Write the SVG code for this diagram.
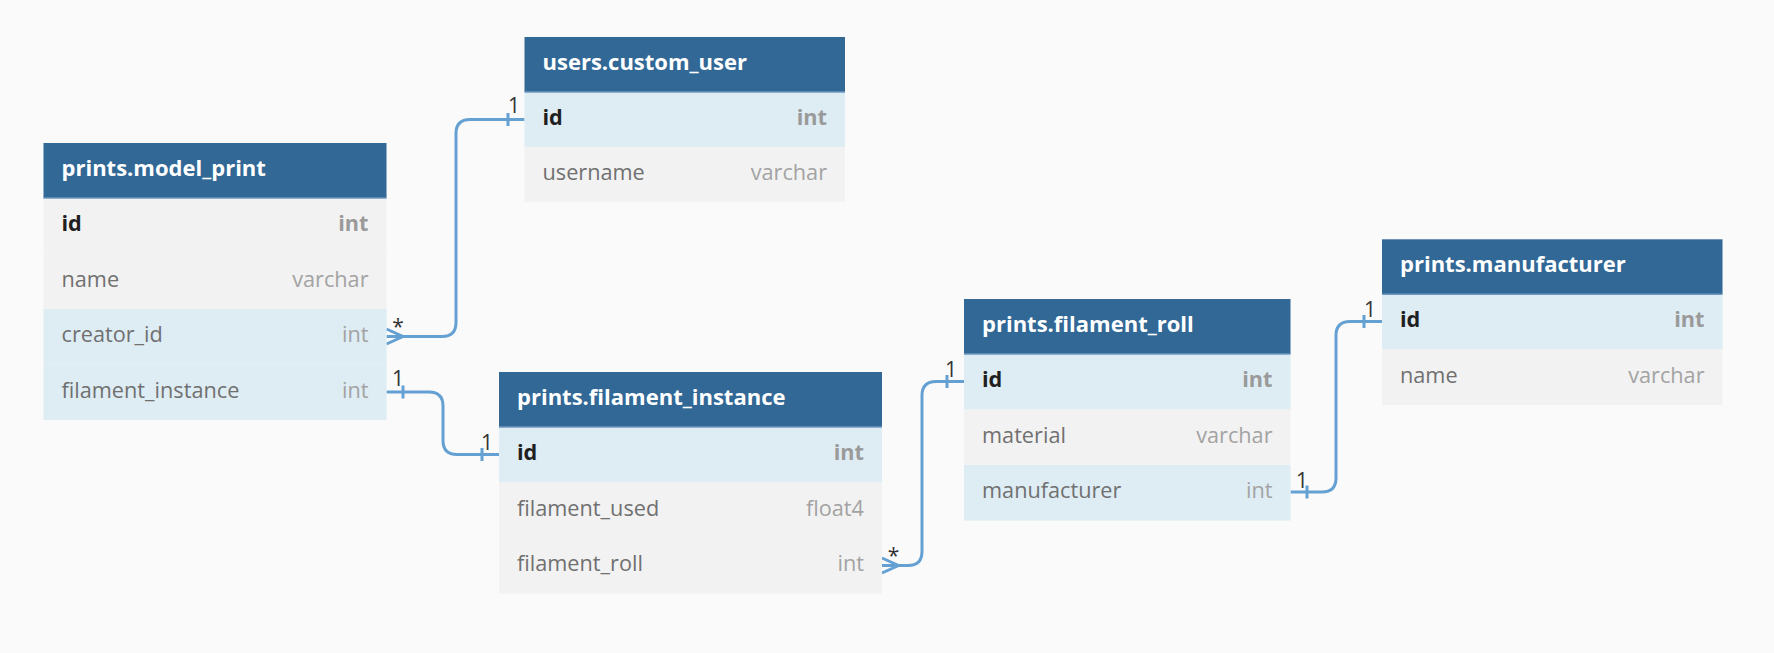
<svg xmlns="http://www.w3.org/2000/svg" width="1774" height="653" viewBox="0 0 1774 653">
<style>
.hdr{fill:#316896}
.hline{stroke:#6f99be;stroke-width:1.5}
.rb{fill:#deecf4}
.rg{fill:#f2f2f2}
.title{font-family:"Open Sans","Noto Sans",sans-serif;font-size:22px;font-weight:700;fill:#ffffff}
.pk{font-family:"Open Sans","Noto Sans",sans-serif;font-size:21.7px;font-weight:700;fill:#1f1f1f}
.fld{font-family:"Open Sans","Noto Sans",sans-serif;font-size:21.7px;fill:#707070}
.pkt{font-family:"Open Sans","Noto Sans",sans-serif;font-size:21.7px;font-weight:700;fill:#9a9a9a;text-anchor:end}
.typ{font-family:"Open Sans","Noto Sans",sans-serif;font-size:21.7px;fill:#a3a3a3;text-anchor:end}
.con{fill:none;stroke:#64a0d2;stroke-width:3;stroke-linecap:butt}
.lbl{font-family:"Open Sans","Noto Sans",sans-serif;font-size:21px;fill:#333333;text-anchor:middle}
</style>
<rect x="0" y="0" width="1774" height="653" fill="#fafafa"/>

<g id="connectors">
  <!-- model_print.creator_id -> users.custom_user.id -->
  <g id="c1">
    <path class="con" d="M386.5,336.5 H442 Q456,336.5 456,322.5 V133.5 Q456,119.5 470,119.5 H524.5"/>
    <path class="con" d="M386.5,329 L403,336.5 L386.5,344"/>
    <path class="con" d="M508,113 V126"/>
    <text class="lbl" x="398" y="334">*</text>
    <text class="lbl" x="514" y="113">1</text>
  </g>
  <!-- model_print.filament_instance -> filament_instance.id -->
  <g id="c2">
    <path class="con" d="M386.5,392 H429 Q443,392 443,406 V440.5 Q443,454.5 457,454.5 H499"/>
    <path class="con" d="M403,385.5 V398.5"/>
    <path class="con" d="M482,448 V461"/>
    <text class="lbl" x="398" y="386">1</text>
    <text class="lbl" x="487" y="450">1</text>
  </g>
  <!-- filament_instance.filament_roll -> filament_roll.id -->
  <g id="c3">
    <path class="con" d="M882,565.5 H908 Q922,565.5 922,551.5 V395.5 Q922,381.5 936,381.5 H964"/>
    <path class="con" d="M882,558 L898.5,565.5 L882,573"/>
    <path class="con" d="M947,375 V388"/>
    <text class="lbl" x="893.5" y="563">*</text>
    <text class="lbl" x="951" y="377">1</text>
  </g>
  <!-- filament_roll.manufacturer -> manufacturer.id -->
  <g id="c4">
    <path class="con" d="M1290.5,492 H1322 Q1336,492 1336,478 V335.5 Q1336,321.5 1350,321.5 H1382"/>
    <path class="con" d="M1307,485.5 V498.5"/>
    <path class="con" d="M1364,315 V328"/>
    <text class="lbl" x="1302" y="488">1</text>
    <text class="lbl" x="1370" y="317">1</text>
  </g>
</g>

<g id="model_print" transform="translate(43.5,143)">
  <rect class="hdr" x="0" y="0" width="343" height="55"/>
  <rect class="rg" x="0" y="55" width="343" height="55.5"/>
  <rect class="rg" x="0" y="110.5" width="343" height="55.5"/>
  <rect class="rb" x="0" y="166" width="343" height="55.5"/>
  <rect class="rb" x="0" y="221.5" width="343" height="55.5"/>
  <line class="hline" x1="0" y1="55" x2="343" y2="55"/>
  <text class="title" x="18" y="33">prints.model_print</text>
  <text class="pk" x="18" y="88">id</text><text class="pkt" x="325" y="88">int</text>
  <text class="fld" x="18" y="143.5">name</text><text class="typ" x="325" y="143.5">varchar</text>
  <text class="fld" x="18" y="199">creator_id</text><text class="typ" x="325" y="199">int</text>
  <text class="fld" x="18" y="254.5">filament_instance</text><text class="typ" x="325" y="254.5">int</text>
</g>

<g id="custom_user" transform="translate(524.5,37)">
  <rect class="hdr" x="0" y="0" width="320.5" height="55"/>
  <rect class="rb" x="0" y="55" width="320.5" height="55"/>
  <rect class="rg" x="0" y="110" width="320.5" height="55"/>
  <line class="hline" x1="0" y1="55" x2="320.5" y2="55"/>
  <text class="title" x="18" y="33">users.custom_user</text>
  <text class="pk" x="18" y="88">id</text><text class="pkt" x="302.5" y="88">int</text>
  <text class="fld" x="18" y="143">username</text><text class="typ" x="302.5" y="143">varchar</text>
</g>

<g id="filament_instance" transform="translate(499,372)">
  <rect class="hdr" x="0" y="0" width="383" height="55"/>
  <rect class="rb" x="0" y="55" width="383" height="55.5"/>
  <rect class="rg" x="0" y="110.5" width="383" height="55.5"/>
  <rect class="rg" x="0" y="166" width="383" height="55.5"/>
  <line class="hline" x1="0" y1="55" x2="383" y2="55"/>
  <text class="title" x="18" y="33">prints.filament_instance</text>
  <text class="pk" x="18" y="88">id</text><text class="pkt" x="365" y="88">int</text>
  <text class="fld" x="18" y="143.5">filament_used</text><text class="typ" x="365" y="143.5">float4</text>
  <text class="fld" x="18" y="199">filament_roll</text><text class="typ" x="365" y="199">int</text>
</g>

<g id="filament_roll" transform="translate(964,299)">
  <rect class="hdr" x="0" y="0" width="326.5" height="55"/>
  <rect class="rb" x="0" y="55" width="326.5" height="55.5"/>
  <rect class="rg" x="0" y="110.5" width="326.5" height="55.5"/>
  <rect class="rb" x="0" y="166" width="326.5" height="55.5"/>
  <line class="hline" x1="0" y1="55" x2="326.5" y2="55"/>
  <text class="title" x="18" y="33">prints.filament_roll</text>
  <text class="pk" x="18" y="88">id</text><text class="pkt" x="308.5" y="88">int</text>
  <text class="fld" x="18" y="143.5">material</text><text class="typ" x="308.5" y="143.5">varchar</text>
  <text class="fld" x="18" y="199">manufacturer</text><text class="typ" x="308.5" y="199">int</text>
</g>

<g id="manufacturer" transform="translate(1382,239.3)">
  <rect class="hdr" x="0" y="0" width="340.5" height="55"/>
  <rect class="rb" x="0" y="55" width="340.5" height="55.3"/>
  <rect class="rg" x="0" y="110.3" width="340.5" height="55.4"/>
  <line class="hline" x1="0" y1="55" x2="340.5" y2="55"/>
  <text class="title" x="18" y="33">prints.manufacturer</text>
  <text class="pk" x="18" y="88">id</text><text class="pkt" x="322.5" y="88">int</text>
  <text class="fld" x="18" y="143.5">name</text><text class="typ" x="322.5" y="143.5">varchar</text>
</g>
</svg>
